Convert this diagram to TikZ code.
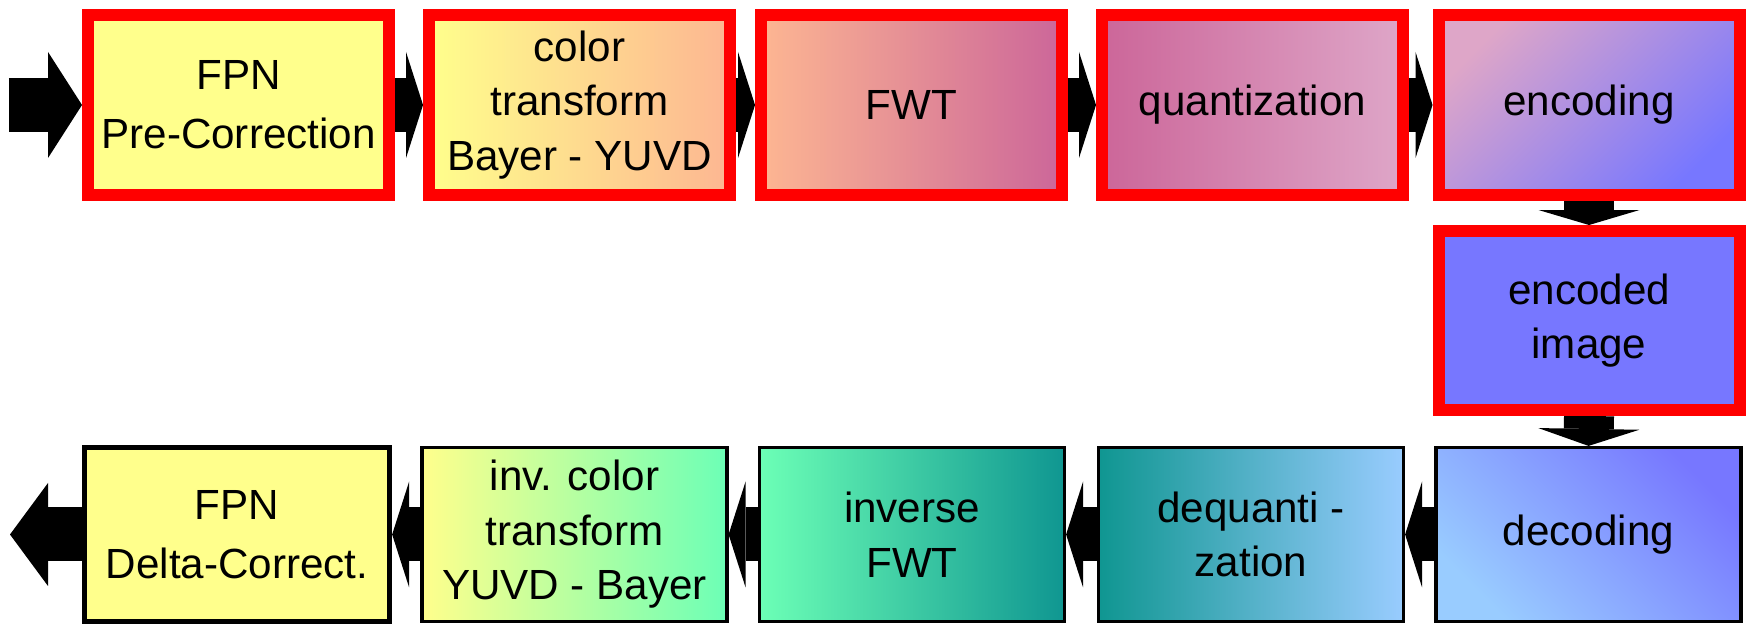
\documentclass[tikz,border=0pt]{standalone}
\usepackage{fontspec}
\setmainfont{Liberation Sans}
\usepackage{xcolor}
\usepackage{tikz}
\usetikzlibrary{arrows.meta, positioning, calc, backgrounds}

\definecolor{fpnyellow}{RGB}{255,255,140}
\definecolor{salmon}{RGB}{253,182,146}
\definecolor{mauve}{RGB}{204,102,153}
\definecolor{rosa}{RGB}{222,166,200}
\definecolor{imgblue}{RGB}{119,119,255}
\definecolor{skyblue}{RGB}{153,204,255}
\definecolor{mintgreen}{RGB}{108,255,182}
\definecolor{darkteal}{RGB}{15,150,145}

\tikzset{
    encbox/.style={rectangle,draw=red,line width=3.4pt,minimum width=3.01cm,minimum height=1.80cm,align=center,font=\fontsize{12}{15.5}\selectfont},
    decbox/.style={rectangle,draw=black,line width=0.9pt,minimum width=3.05cm,minimum height=1.74cm,align=center,font=\fontsize{12}{15.5}\selectfont},
    flow/.style={line width=0.54cm,-{Triangle[length=0.17cm,width=1.06cm,line width=0pt]}}
}

\begin{document}
\begin{tikzpicture}
    \useasboundingbox (0,0) rectangle (17.5,6.24);

    % Codifica
    \node[encbox,fill=fpnyellow] (fpn) at (2.385,5.19) {FPN\\[1.2pt]Pre-Correction};
    \node[encbox,left color=fpnyellow,right color=salmon] (colortr) at (5.795,5.19) {color\\transform\\Bayer - YUVD};
    \node[encbox,left color=salmon,right color=mauve] (fwt) at (9.115,5.19) {FWT};
    \node[encbox,left color=mauve,right color=rosa] (quant) at (12.525,5.19) {quantization};
    \node[encbox,top color=rosa,bottom color=imgblue,shading angle=45] (encode) at (15.89,5.19) {encoding};

    % Immagine codificata
    \node[encbox,fill=imgblue,minimum height=1.79cm] (encimg) at (15.89,3.035) {encoded\\image};

    % Decodifica
    \node[decbox,top color=imgblue,bottom color=skyblue,shading angle=-45] (decode) at (15.885,0.895) {decoding};
    \node[decbox,left color=darkteal,right color=skyblue] (dequant) at (12.51,0.895) {dequanti -\\zation};
    \node[decbox,left color=mintgreen,right color=darkteal] (ifwt) at (9.12,0.895) {inverse\\FWT};
    \node[decbox,left color=fpnyellow,right color=mintgreen] (invcolor) at (5.745,0.895) {inv. color\\transform\\YUVD - Bayer};
    \node[decbox,fill=fpnyellow,line width=1.5pt] (fpndelta) at (2.37,0.895) {FPN\\[1.2pt]Delta-Correct.};

    \coordinate (in) at (0.09,5.19);
    \coordinate (out) at (0.10,0.895);

    % Frecce
    \begin{scope}[on background layer]
        \draw[flow,-{Triangle[length=0.34cm,width=1.06cm,line width=0pt]}] (in) -- (fpn.west);
        \draw[flow] (fpn.east) -- (colortr.west);
        \draw[flow] (colortr.east) -- (fwt.west);
        \draw[flow] (fwt.east) -- (quant.west);
        \draw[flow] (quant.east) -- (encode.west);
        \draw[flow,line width=0.5cm,-{Triangle[length=0.15cm,width=1.01cm,line width=0pt]}] (encode.south) -- (encimg.north);
        \draw[flow,line width=0.5cm,-{Triangle[length=0.17cm,width=1.01cm,line width=0pt]}] (encimg.south) -- (decode.north);
        \draw[flow] (decode.west) -- (dequant.east);
        \draw[flow] (dequant.west) -- (ifwt.east);
        \draw[flow] (ifwt.west) -- (invcolor.east);
        \draw[flow] (invcolor.west) -- (fpndelta.east);
        \draw[flow,-{Triangle[length=0.38cm,width=1.03cm,line width=0pt]}] (fpndelta.west) -- (out);
    \end{scope}
\end{tikzpicture}
\end{document}
